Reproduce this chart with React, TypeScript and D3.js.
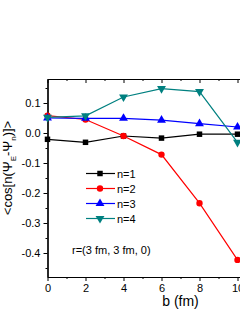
import React, { useRef, useEffect } from "react";
import * as d3 from "d3";

const bValues = [0, 2, 4, 6, 8, 10];
const n1 = [-0.021, -0.031, -0.01, -0.017, -0.004, -0.004];
const n2 = [0.058, 0.045, -0.01, -0.072, -0.234, -0.423];
const n3 = [0.05, 0.049, 0.049, 0.043, 0.031, 0.02];
const n4 = [0.052, 0.057, 0.12, 0.148, 0.138, -0.031];
const seriesNames = ["n=1", "n=2", "n=3", "n=4"];
const xTicks = [0, 2, 4, 6, 8, 10];
const yTicks = [-0.4, -0.3, -0.2, -0.1, 0.0, 0.1];

const App = () => {
    const svgRef = useRef(null);

    useEffect(() => {
        const width = 240;
        const height = 310;
        const font = "Liberation Sans, Arial, sans-serif";

        const svg = d3.select(svgRef.current).attr("width", width).attr("height", height);
        svg.selectAll("*").remove();

        const x = d3.scaleLinear().domain([0, 10.5]).range([47.5, 247]);
        const y = d3.scaleLinear().domain([-0.48, 0.18]).range([277, 79]);

        const fmt = (d: any) => d3.format(".1f")(d).replace("−", "-");

        // minor ticks
        const xMinor = d3.range(1, 11, 2);
        const yMinor = d3.range(-0.45, 0.18, 0.1);

        const styleAxis = (g: any) => {
            g.selectAll("path").attr("stroke", "#000").attr("stroke-width", 1.2);
            g.selectAll("line").attr("stroke", "#000").attr("stroke-width", 1);
            g.selectAll("text").attr("font-family", font).attr("font-size", 11).attr("fill", "#000");
        };

        // bottom
        svg.append("g")
            .attr("transform", `translate(0,${y.range()[0]})`)
            .call(d3.axisBottom(x).tickValues(xMinor).tickSize(2).tickFormat(() => "").tickSizeOuter(0))
            .call(styleAxis);
        svg.append("g")
            .attr("transform", `translate(0,${y.range()[0]})`)
            .call(d3.axisBottom(x).tickValues(xTicks).tickSize(4).tickFormat((d: any) => String(d)).tickSizeOuter(0))
            .call(styleAxis);

        // top (ticks inward)
        svg.append("g")
            .attr("transform", `translate(0,${y.range()[1]})`)
            .call(d3.axisTop(x).tickValues(xMinor).tickSize(-2).tickFormat(() => "").tickSizeOuter(0))
            .call(styleAxis);
        svg.append("g")
            .attr("transform", `translate(0,${y.range()[1]})`)
            .call(d3.axisTop(x).tickValues(xTicks).tickSize(-4).tickFormat(() => "").tickSizeOuter(0))
            .call(styleAxis);

        // left
        svg.append("g")
            .attr("transform", `translate(${x.range()[0]},0)`)
            .call(d3.axisLeft(y).tickValues(yMinor).tickSize(2).tickFormat(() => "").tickSizeOuter(0))
            .call(styleAxis);
        svg.append("g")
            .attr("transform", `translate(${x.range()[0]},0)`)
            .call(d3.axisLeft(y).tickValues(yTicks).tickSize(4).tickFormat(fmt).tickSizeOuter(0))
            .call(styleAxis);

        const colors = ["#000000", "#ff0000", "#0000ff", "#008080"];
        const shapes = [d3.symbolSquare, d3.symbolCircle, d3.symbolTriangle, d3.symbolTriangle];
        const sizes = [30, 32, 34, 34];
        const allSeries = [n1, n2, n3, n4];

        const line = d3.line<number>()
            .x((_d, i) => x(bValues[i]))
            .y((d) => y(d));

        const drawMarker = (g: any, k: number, cx: number, cy: number) => {
            g.append("path")
                .attr("d", d3.symbol().type(shapes[k]).size(sizes[k])())
                .attr("transform", `translate(${cx},${cy})${k === 3 ? " rotate(180)" : ""}`)
                .attr("fill", colors[k]);
        };

        allSeries.forEach((s, k) => {
            const g = svg.append("g");
            g.append("path")
                .attr("d", line(s))
                .attr("fill", "none")
                .attr("stroke", colors[k])
                .attr("stroke-width", 1.2);
            s.forEach((v, i) => drawMarker(g, k, x(bValues[i]), y(v)));
        });

        // legend
        const legend = svg.append("g");
        seriesNames.forEach((name, k) => {
            const ly = 173.5 + k * 15;
            legend.append("line")
                .attr("x1", 86).attr("x2", 115).attr("y1", ly).attr("y2", ly)
                .attr("stroke", colors[k]).attr("stroke-width", 1.2);
            drawMarker(legend, k, 100, ly);
            legend.append("text")
                .attr("x", 117).attr("y", ly + 4)
                .attr("font-family", font).attr("font-size", 11)
                .text(name);
        });

        svg.append("text")
            .attr("x", 72).attr("y", 254)
            .attr("font-family", font).attr("font-size", 11)
            .text("r=(3 fm, 3 fm, 0)");

        svg.append("text")
            .attr("x", x(7)).attr("y", 306)
            .attr("text-anchor", "middle")
            .attr("font-family", font).attr("font-size", 14)
            .text("b (fm)");

        const yTitle = svg.append("text")
            .attr("transform", "translate(12,168) rotate(-90)")
            .attr("text-anchor", "middle")
            .attr("font-family", font).attr("font-size", 13);
        yTitle.append("tspan").text("<cos[n(Ψ");
        yTitle.append("tspan").attr("font-size", 8).attr("dy", 4).text("E");
        yTitle.append("tspan").attr("dy", -4).text("-Ψ");
        yTitle.append("tspan").attr("font-size", 8).attr("dy", 4).text("n");
        yTitle.append("tspan").attr("dy", -4).text(")]>");
    }, []);

    return <svg ref={svgRef} style={{ position: "absolute", left: 0, top: 0 }}></svg>;
};

export default App;
